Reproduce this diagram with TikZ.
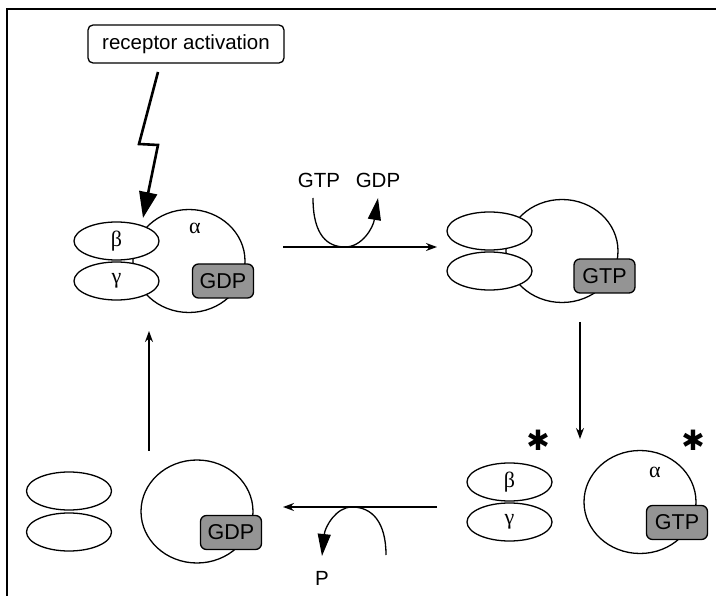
\documentclass[tikz,border=0pt]{standalone}
\usepackage{fontspec}
\setmainfont{Liberation Sans}
\newfontfamily\greekfont{Liberation Serif}
\newfontfamily\symfont{DejaVu Sans}
\usetikzlibrary{shapes.geometric,arrows.meta}

\begin{document}
\begin{tikzpicture}[x=1pt,y=-1pt,
  sub/.style={draw, ellipse, line width=1.3pt, fill=white, minimum width=85pt, minimum height=38pt, inner sep=0pt},
  alphasub/.style={draw, ellipse, line width=1.3pt, minimum width=112pt, minimum height=103pt, inner sep=0pt},
  nuc/.style={draw, line width=1.3pt, fill=black!42, rounded corners=6pt, minimum width=61pt, minimum height=34pt, inner sep=0pt, font=\fontsize{21.5}{21.5}\selectfont},
  greek/.style={font=\greekfont\fontsize{22}{22}\selectfont, inner sep=0pt},
  lbl/.style={font=\fontsize{20.5}{20.5}\selectfont, inner sep=0pt},
  star/.style={font=\symfont\fontsize{28}{28}\selectfont, inner sep=0pt},
  flow/.style={line width=1.3pt, -{Stealth[length=11pt,width=8pt]}},
  curl/.style={line width=1.3pt, -{Triangle[length=22pt,width=13pt]}},
  bolt/.style={line width=2.6pt, line join=miter, -{Triangle[length=26pt,width=18pt]}}
]
\useasboundingbox (0,0) rectangle (716,596);

% frame (top and left edges)
\draw[line width=1.1pt] (7,596) -- (7,9) -- (716,9);

% receptor activation label and lightning bolt
\node[draw, line width=1.3pt, rounded corners=5pt, minimum width=196pt, minimum height=38pt, inner sep=0pt, lbl] (rec) at (186,44) {receptor activation};
\coordinate (z0) at (158,72);
\coordinate (z1) at (139,144);
\coordinate (z2) at (158,145);
\coordinate (z3) at (143,218);
\draw[bolt] (z0) -- (z1) -- (z2) -- (z3);

% complex 1: heterotrimer with GDP
\node[alphasub] (a1) at (189,261) {};
\node[sub] (b1) at (116.5,241) {};
\node[sub] (c1) at (116.5,281) {};
\node[greek] at (b1) {β};
\node[greek] at (c1) {γ};
\node[greek] at (195,228) {α};
\node[nuc] (n1) at (223,281) {GDP};

% complex 2: heterotrimer with GTP
\node[alphasub] (a2) at (562,251) {};
\node[sub] (b2) at (489.5,231) {};
\node[sub] (c2) at (489.5,271) {};
\node[nuc] (n2) at (604.5,276) {GTP};

% complex 3: dissociated, active subunits
\node[alphasub] (a3) at (640,502) {};
\node[sub] (b3) at (509.5,482) {};
\node[sub] (c3) at (509.5,522) {};
\node[greek] at (b3) {β};
\node[greek] at (c3) {γ};
\node[greek] at (655,472) {α};
\node[nuc] (n3) at (677,522.5) {GTP};
\node[star] (s1) at (538,440) {✱};
\node[star] (s2) at (693,440) {✱};

% complex 4: dissociated, inactive subunits
\node[alphasub] (a4) at (197,511.5) {};
\node[sub] (b4) at (69,491) {};
\node[sub] (c4) at (69,532) {};
\node[nuc] (n4) at (231,532.5) {GDP};

% exchange step: GTP in, GDP out
\coordinate (e1) at (283,247);
\coordinate (e2) at (437,247);
\draw[flow] (e1) -- (e2);
\node[lbl] (gtpin) at (319,180) {GTP};
\node[lbl] (gdpout) at (378,180) {GDP};
\coordinate (k0) at (313,198);
\coordinate (k1) at (345,247);
\coordinate (k2) at (378,198);
\draw[curl] (k0) .. controls (313,236) and (328,247) .. (k1) .. controls (362,247) and (373,228) .. (k2);

% dissociation step
\coordinate (d1) at (580,322);
\coordinate (d2) at (580,439);
\draw[flow] (d1) -- (d2);

% hydrolysis step: phosphate released
\coordinate (h1) at (437,507);
\coordinate (h2) at (283,507);
\draw[flow] (h1) -- (h2);
\coordinate (p0) at (386,555);
\coordinate (p1) at (352,507);
\coordinate (p2) at (322,556);
\draw[curl] (p0) .. controls (386,522) and (372,507) .. (p1) .. controls (336,507) and (325,527) .. (p2);
\node[lbl] (pi) at (322,578) {P};

% reassociation step
\coordinate (r1) at (149,451);
\coordinate (r2) at (149,331);
\draw[flow] (r1) -- (r2);
\end{tikzpicture}
\end{document}
